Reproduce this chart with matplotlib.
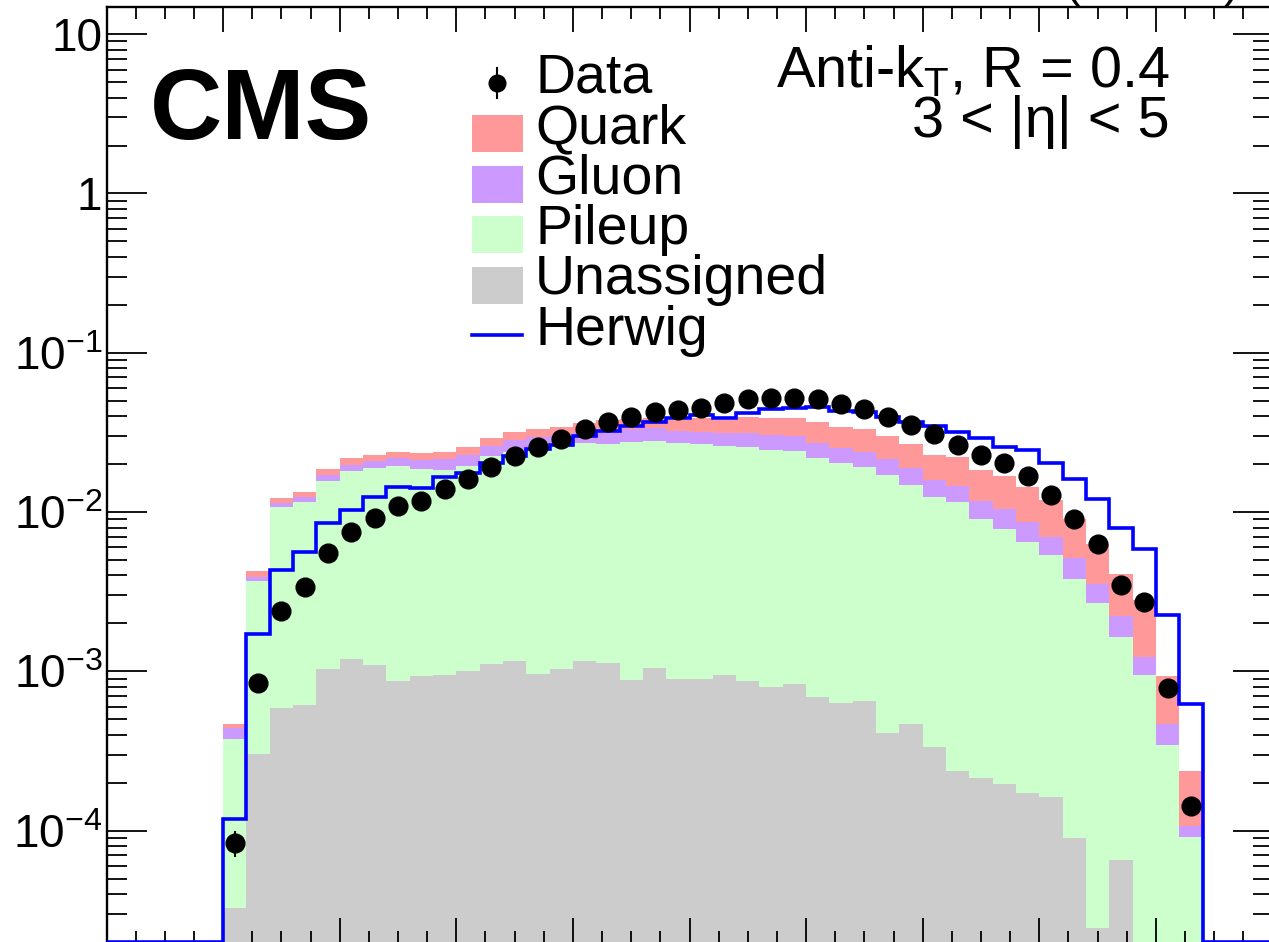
import numpy as np
import matplotlib.pyplot as plt
from matplotlib.patches import Rectangle
from matplotlib.lines import Line2D
from matplotlib.ticker import FixedLocator, LogLocator, FuncFormatter, MultipleLocator, NullFormatter

plt.rcParams["font.family"] = ["Liberation Sans", "DejaVu Sans"]
plt.rcParams["mathtext.fontset"] = "custom"
plt.rcParams["mathtext.rm"] = "Liberation Sans"
plt.rcParams["mathtext.it"] = "Liberation Sans:italic"
plt.rcParams["mathtext.bf"] = "Liberation Sans:bold"

# Binning: 42 bins of width 0.02 between 0.10 and 0.94.
bin_edges = np.linspace(0.10, 0.94, 43)

data = [8.4e-5, 8.4e-4, 2.39e-3, 3.40e-3, 5.51e-3, 7.47e-3, 9.22e-3, 1.10e-2, 1.18e-2, 1.40e-2,
        1.61e-2, 1.93e-2, 2.24e-2, 2.57e-2, 2.86e-2, 3.31e-2, 3.69e-2, 3.94e-2, 4.23e-2, 4.38e-2,
        4.52e-2, 4.82e-2, 5.11e-2, 5.18e-2, 5.18e-2, 5.11e-2, 4.77e-2, 4.42e-2, 3.97e-2, 3.52e-2,
        3.09e-2, 2.64e-2, 2.29e-2, 2.04e-2, 1.69e-2, 1.28e-2, 9.05e-3, 6.31e-3, 3.51e-3, 2.71e-3,
        7.92e-4, 1.43e-4]
data_err = [1.6e-5, 4.0e-5, 0, 0, 0, 0, 0, 0, 0, 0,
            0, 0, 0, 0, 0, 0, 0, 0, 0, 0,
            0, 0, 0, 0, 0, 0, 0, 0, 0, 0,
            0, 0, 0, 0, 0, 0, 0, 0, 0, 0,
            4.0e-5, 2.0e-5]

herwig = [1.18e-4, 1.72e-3, 4.33e-3, 5.64e-3, 8.51e-3, 1.03e-2, 1.25e-2, 1.43e-2, 1.41e-2, 1.67e-2,
          1.75e-2, 2.02e-2, 2.25e-2, 2.48e-2, 2.64e-2, 3.00e-2, 3.25e-2, 3.47e-2, 3.69e-2, 3.88e-2,
          4.07e-2, 3.91e-2, 4.17e-2, 4.42e-2, 4.48e-2, 4.55e-2, 4.33e-2, 4.27e-2, 3.97e-2, 3.70e-2,
          3.47e-2, 3.18e-2, 2.92e-2, 2.57e-2, 2.45e-2, 2.02e-2, 1.61e-2, 1.20e-2, 7.91e-3, 5.87e-3,
          2.26e-3, 6.24e-4]

# Stacked simulation, cumulative heights (Unassigned at the bottom, Quark on top).
stack_quark = [4.68e-4, 4.27e-3, 1.23e-2, 1.33e-2, 1.86e-2, 2.18e-2, 2.28e-2, 2.39e-2, 2.34e-2, 2.39e-2,
               2.57e-2, 2.90e-2, 3.20e-2, 3.32e-2, 3.44e-2, 3.64e-2, 3.79e-2, 3.84e-2, 3.88e-2, 3.79e-2,
               3.91e-2, 3.79e-2, 3.97e-2, 3.91e-2, 3.88e-2, 3.69e-2, 3.44e-2, 3.32e-2, 3.02e-2, 2.69e-2,
               2.28e-2, 2.21e-2, 1.85e-2, 1.68e-2, 1.43e-2, 1.19e-2, 9.01e-3, 6.31e-3, 4.09e-3, 2.81e-3,
               9.29e-4, 2.38e-4]
stack_gluon = [4.43e-4, 3.93e-3, 1.14e-2, 1.25e-2, 1.70e-2, 1.98e-2, 2.10e-2, 2.18e-2, 2.12e-2, 2.15e-2,
               2.28e-2, 2.60e-2, 2.84e-2, 2.95e-2, 3.05e-2, 3.20e-2, 3.18e-2, 3.31e-2, 3.36e-2, 3.23e-2,
               3.20e-2, 3.15e-2, 3.12e-2, 3.05e-2, 3.02e-2, 2.70e-2, 2.54e-2, 2.39e-2, 2.15e-2, 1.88e-2,
               1.60e-2, 1.46e-2, 1.17e-2, 1.05e-2, 8.71e-3, 7.01e-3, 5.13e-3, 3.52e-3, 2.24e-3, 1.24e-3,
               4.68e-4, 1.07e-4]
stack_pileup = [3.76e-4, 3.69e-3, 1.08e-2, 1.15e-2, 1.57e-2, 1.81e-2, 1.88e-2, 1.95e-2, 1.86e-2, 1.84e-2,
                1.95e-2, 2.25e-2, 2.39e-2, 2.52e-2, 2.57e-2, 2.70e-2, 2.69e-2, 2.77e-2, 2.81e-2, 2.73e-2,
                2.68e-2, 2.60e-2, 2.55e-2, 2.45e-2, 2.42e-2, 2.18e-2, 2.02e-2, 1.93e-2, 1.71e-2, 1.49e-2,
                1.25e-2, 1.15e-2, 9.01e-3, 7.86e-3, 6.52e-3, 5.38e-3, 3.80e-3, 2.68e-3, 1.64e-3, 9.43e-4,
                3.45e-4, 9.09e-5]
unassigned = [3.29e-5, 3.03e-4, 5.87e-4, 6.15e-4, 1.03e-3, 1.19e-3, 1.09e-3, 8.70e-4, 9.36e-4, 9.49e-4,
              1.00e-3, 1.11e-3, 1.16e-3, 9.59e-4, 1.03e-3, 1.16e-3, 1.13e-3, 8.77e-4, 1.05e-3, 9.00e-4,
              8.92e-4, 9.45e-4, 8.67e-4, 8.01e-4, 8.33e-4, 6.94e-4, 6.33e-4, 6.49e-4, 4.11e-4, 4.68e-4,
              3.35e-4, 2.37e-4, 2.13e-4, 1.96e-4, 1.72e-4, 1.63e-4, 9.04e-5, 2.46e-5, 6.55e-5, 0.0,
              0.0, 0.0]

y_decades = [1e-4, 1e-3, 1e-2, 1e-1, 1, 10]
legend_labels = ["Data", "Quark", "Gluon", "Pileup", "Unassigned", "Herwig"]
stack_colors = ["#ff9999", "#cc99ff", "#ccffcc", "#cccccc"]
herwig_color = "#0000ff"

ymin, ymax = 1.987e-5, 14.88
W, H = 1269, 942

fig = plt.figure(figsize=(W / 100, H / 100), dpi=100)
ax = fig.add_axes([106.5 / W, -0.5 / H, 1166 / W, 935.8 / H])
ax.set_yscale("log")
ax.set_xlim(0, 1)
ax.set_ylim(ymin, ymax)

# Stack: draw cumulative levels from top to bottom so each covers the previous.
for level, color in zip([stack_quark, stack_gluon, stack_pileup, unassigned], stack_colors):
    vals = np.maximum(np.array(level), ymin * 0.1)
    ax.stairs(vals, bin_edges, baseline=ymin * 0.1, fill=True, color=color, lw=0, zorder=1)

# Herwig outline over the whole x range (empty bins sit on the axis minimum).
full_edges = np.concatenate([[0.0], np.linspace(0.02, 0.08, 4), bin_edges, [0.96, 0.98, 1.0]])
herwig_full = np.concatenate([np.zeros(5), herwig, np.zeros(3)])
ax.stairs(np.maximum(herwig_full, ymin), full_edges, baseline=None,
          color=herwig_color, lw=2.6, zorder=3)

# Data points.
centers = 0.5 * (bin_edges[1:] + bin_edges[:-1])
ax.errorbar(centers, data, yerr=data_err, fmt="o", color="black",
            markersize=13.5, elinewidth=1.5, capsize=0, zorder=4)

# Axis styling (ROOT look: ticks inside on all four sides).
for side in ["left", "top", "right"]:
    ax.spines[side].set_linewidth(1.7)
ax.spines["bottom"].set_visible(False)

ax.xaxis.set_major_locator(MultipleLocator(0.1))
ax.xaxis.set_minor_locator(MultipleLocator(0.025))
ax.yaxis.set_major_locator(FixedLocator(y_decades))
ax.yaxis.set_minor_locator(LogLocator(base=10, subs=np.arange(2, 10), numticks=20))
ax.yaxis.set_minor_formatter(NullFormatter())


def log_label(v, pos):
    if np.isclose(v, 1):
        return "1"
    if np.isclose(v, 10):
        return "10"
    return r"$\mathregular{10^{%d}}$" % int(round(np.log10(v)))


ax.yaxis.set_major_formatter(FuncFormatter(log_label))
ax.tick_params(axis="y", which="major", direction="in", length=28.8, width=1.3,
               left=True, right=True, labelsize=33, pad=3)
ax.tick_params(axis="y", which="minor", direction="in", length=14.4, width=1.3,
               left=True, right=True)
ax.tick_params(axis="x", which="major", direction="in", length=18, width=1.3,
               top=True, bottom=True, labelbottom=False)
ax.tick_params(axis="x", which="minor", direction="in", length=8.6, width=1.3,
               top=True, bottom=True)


def fx(x):
    return x / W


def fy(y):
    return 1 - y / H


# Labels.
fig.text(fx(150), fy(138.5), "CMS", fontsize=72, fontweight="bold",
         ha="left", va="baseline")
fig.text(fx(1170), fy(87), r"Anti-k$_\mathregular{T}$, R = 0.4", fontsize=41.5,
         ha="right", va="baseline")
fig.text(fx(1170), fy(137), "3 < |η| < 5", fontsize=41.5, ha="right", va="baseline")
fig.text(fx(1240), fy(-4), "(13 TeV)", fontsize=33.5, ha="right", va="baseline")

# Legend drawn by hand in ROOT style.
row0, step = 92.7, 50.4
for i, label in enumerate(legend_labels):
    base = row0 + step * i
    mid = base - 9.3
    if label == "Data":
        fig.add_artist(Line2D([fx(497), fx(497)], [fy(mid - 15), fy(mid + 15)],
                              color="black", lw=1.5))
        fig.add_artist(Line2D([fx(497)], [fy(mid)], marker="o", markersize=12,
                              color="black", lw=0))
    elif label == "Herwig":
        fig.add_artist(Line2D([fx(472), fx(522)], [fy(mid), fy(mid)],
                              color=herwig_color, lw=2.6))
    else:
        fig.add_artist(Rectangle((fx(472), fy(mid + 18.5)), 51 / W, 37 / H,
                                 transform=fig.transFigure,
                                 color=stack_colors[i - 1], lw=0))
    fig.text(fx(535), fy(base), label, fontsize=40, ha="left", va="baseline")

fig.savefig("out.png", dpi=100)
